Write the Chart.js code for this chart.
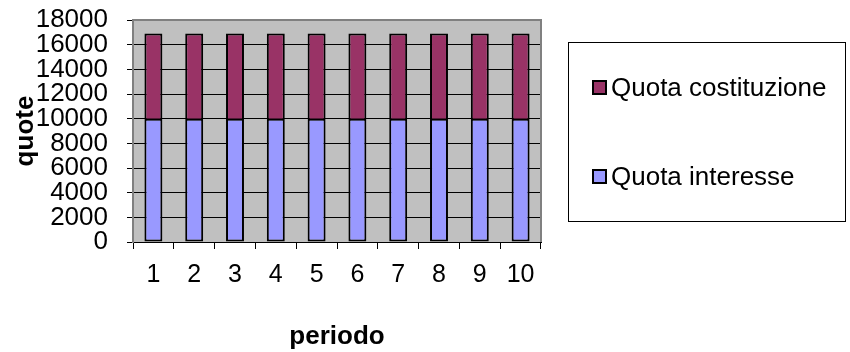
<!DOCTYPE html>
<html>
<head>
<meta charset="utf-8">
<script src="https://cdn.jsdelivr.net/npm/chart.js@4"></script>
<style>
  html, body { margin: 0; padding: 0; background: #ffffff; }
  #wrap { width: 850px; height: 352px; }
</style>
</head>
<body>
<div id="wrap"><canvas id="c" width="850" height="352"></canvas></div>
<script>
// Sinking-fund schedule: constant interest share and constant accumulation share per period
const periodi = ['1', '2', '3', '4', '5', '6', '7', '8', '9', '10'];
const quotaInteresse = [10000, 10000, 10000, 10000, 10000, 10000, 10000, 10000, 10000, 10000];
const quotaCostituzione = [6903, 6903, 6903, 6903, 6903, 6903, 6903, 6903, 6903, 6903];
const yTicks = [0, 2000, 4000, 6000, 8000, 10000, 12000, 14000, 16000, 18000];

const FONT = "'Liberation Sans', Arial, sans-serif";

// Grey plot background plus the frame on the top and right edges
const plotFrame = {
  id: 'plotFrame',
  beforeDraw(chart) {
    const { ctx, chartArea: a } = chart;
    ctx.save();
    ctx.fillStyle = '#c0c0c0';
    ctx.fillRect(a.left, a.top, a.right - a.left, a.bottom - a.top);
    ctx.restore();
  },
  afterDatasetsDraw(chart) {
    const { ctx, chartArea: a } = chart;
    ctx.save();
    ctx.strokeStyle = '#808080';
    ctx.lineWidth = 2;
    ctx.beginPath();
    ctx.moveTo(a.left, a.top);
    ctx.lineTo(a.right, a.top);
    ctx.lineTo(a.right, a.bottom);
    ctx.stroke();
    ctx.restore();
  }
};

// Boxed legend on the right, series listed top-down in stacking order
const boxLegend = {
  id: 'boxLegend',
  afterDraw(chart) {
    const { ctx } = chart;
    ctx.save();
    ctx.strokeStyle = '#000000';
    ctx.lineWidth = 1;
    ctx.strokeRect(568.5, 42.5, 277, 179);
    const items = chart.data.datasets.slice().reverse();
    const rows = [88, 177];
    ctx.font = '26px ' + FONT;
    ctx.textBaseline = 'middle';
    ctx.textAlign = 'left';
    items.forEach((ds, i) => {
      const y = rows[i];
      ctx.fillStyle = ds.backgroundColor;
      ctx.fillRect(593, y - 7, 13, 13);
      ctx.strokeStyle = '#000000';
      ctx.lineWidth = 2;
      ctx.strokeRect(593, y - 7, 13, 13);
      ctx.fillStyle = '#000000';
      ctx.fillText(ds.label, 611, y + 1);
    });
    ctx.restore();
  }
};

new Chart(document.getElementById('c'), {
  type: 'bar',
  data: {
    labels: periodi,
    datasets: [
      {
        label: 'Quota interesse',
        data: quotaInteresse,
        backgroundColor: '#9999ff',
        borderColor: '#000000',
        borderWidth: 2,
        borderSkipped: false
      },
      {
        label: 'Quota costituzione',
        data: quotaCostituzione,
        backgroundColor: '#993366',
        borderColor: '#000000',
        borderWidth: 2,
        // the segment below already outlines the shared edge
        borderSkipped: 'start'
      }
    ]
  },
  options: {
    responsive: false,
    devicePixelRatio: 1,
    animation: false,
    layout: { padding: { top: 20, right: 309, left: 0, bottom: 0 } },
    datasets: { bar: { categoryPercentage: 1, barPercentage: 0.44 } },
    plugins: {
      legend: { display: false },
      tooltip: { enabled: false }
    },
    scales: {
      x: {
        stacked: true,
        afterFit(scale) { scale.height = 110; },
        grid: {
          drawOnChartArea: false,
          drawTicks: true,
          tickLength: 7,
          color: '#000000',
          offset: true
        },
        border: { display: true, color: '#000000', width: 1 },
        ticks: {
          color: '#000000',
          padding: 11,
          maxRotation: 0,
          autoSkip: false,
          font: { family: FONT, size: 25 }
        },
        title: {
          display: true,
          text: 'periodo',
          color: '#000000',
          font: { family: FONT, size: 26, weight: 'bold' },
          padding: { top: 0, bottom: 0 }
        }
      },
      y: {
        stacked: true,
        min: 0,
        max: 18000,
        afterFit(scale) {
          scale.width = 133;
          // labels may overhang the plot edges; keep the plot box fixed
          scale.paddingTop = 0;
          scale.paddingBottom = 0;
        },
        afterBuildTicks(scale) { scale.ticks = yTicks.map(v => ({ value: v })); },
        grid: {
          color: '#000000',
          lineWidth: 1,
          drawTicks: true,
          tickLength: 6
        },
        border: { display: true, color: '#808080', width: 2 },
        ticks: {
          color: '#000000',
          padding: 19,
          autoSkip: false,
          font: { family: FONT, size: 26 },
          callback: v => String(v)
        },
        title: {
          display: true,
          text: 'quote',
          color: '#000000',
          font: { family: FONT, size: 26, weight: 'bold' },
          padding: { top: 10, bottom: 0 }
        }
      }
    }
  },
  plugins: [plotFrame, boxLegend]
});
</script>
</body>
</html>
